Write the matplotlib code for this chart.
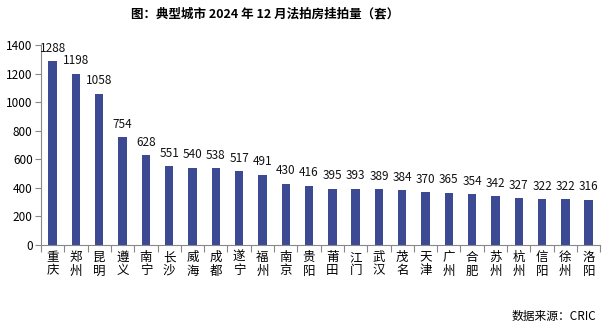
import numpy as np
import matplotlib
matplotlib.use('Agg')
from matplotlib import pyplot as plt

plt.rcParams['font.family'] = ['Noto Sans CJK SC', 'DejaVu Sans']

cities = ['重庆', '郑州', '昆明', '遵义', '南宁', '长沙', '威海', '成都', '遂宁', '福州',
          '南京', '贵阳', '莆田', '江门', '武汉', '茂名', '天津', '广州', '合肥', '苏州',
          '杭州', '信阳', '徐州', '洛阳']
counts = [1288, 1198, 1058, 754, 628, 551, 540, 538, 517, 491,
          430, 416, 395, 393, 389, 384, 370, 365, 354, 342,
          327, 322, 322, 316]
yticks = [0, 200, 400, 600, 800, 1000, 1200, 1400]

fig = plt.figure(figsize=(6.08, 3.30), dpi=100)
ax = fig.add_axes([0.0674, 0.2576, 0.92, 0.606])

x = np.arange(len(cities))
ax.bar(x, counts, width=0.36, color='#3C4A93')
for xi, v in zip(x, counts):
    ax.text(xi, v + 45, str(v), ha='center', va='bottom', fontsize=8.5, color='#111111')

ax.set_xlim(-0.5, len(cities) - 0.5)
ax.set_ylim(0, 1400)
ax.set_yticks(yticks)
ax.tick_params(axis='y', labelsize=8.5, length=4, color='#888888', pad=2)

# category ticks sit on the boundaries between bars
ax.set_xticks(np.arange(-0.5, len(cities)), minor=False)
ax.set_xticklabels([])
ax.tick_params(axis='x', length=5, color='#888888')
for xi, name in zip(x, cities):
    ax.text(xi, -0.03, '\n'.join(name), transform=ax.get_xaxis_transform(),
            ha='center', va='top', fontsize=9, linespacing=1.05)

for side in ['top', 'right']:
    ax.spines[side].set_visible(False)
ax.spines['left'].set_color('#888888')
ax.spines['bottom'].set_color('#888888')

fig.text(0.436, 0.957, '图：典型城市 2024 年 12 月法拍房挂拍量（套）', ha='center', va='center',
         fontsize=9, fontweight='bold')
fig.text(0.98, 0.04, '数据来源：CRIC', ha='right', va='center', fontsize=8.5)

plt.savefig('out.png', dpi=100)
plt.close()
